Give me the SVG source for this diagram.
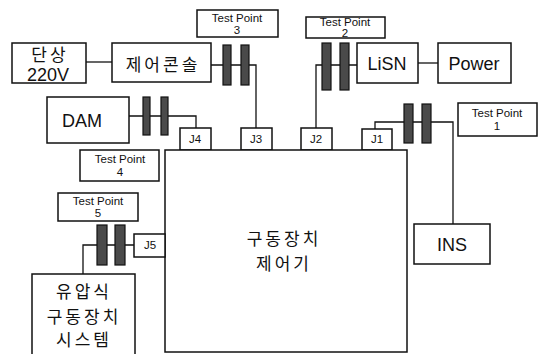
<svg xmlns="http://www.w3.org/2000/svg" width="543" height="354" viewBox="0 0 543 354">
<style>
.box{fill:#fff;stroke:#111;stroke-width:1.5}
.ln{fill:none;stroke:#111;stroke-width:1.3}
.fb{fill:#4a4a4a;stroke:#111;stroke-width:1.2}
.big{font-family:"Liberation Sans","Noto Sans CJK KR",sans-serif;font-size:18px;fill:#111;text-anchor:middle}
.kr{font-family:"Noto Sans CJK KR",sans-serif;font-size:17px;fill:#111;text-anchor:middle;letter-spacing:3px}
.sm{font-family:"Liberation Sans",sans-serif;font-size:11.5px;fill:#111;text-anchor:middle}
</style>
<rect width="543" height="354" fill="#fff"/>
<g id="connectors">
<path class="ln" d="M86 62 H112"/>
<path class="ln" d="M211 65 H256 V128"/>
<path class="ln" d="M129 116 H196 V128"/>
<path class="ln" d="M316 128 V65 H357"/>
<path class="ln" d="M418 63 H438"/>
<path class="ln" d="M375 129 V122 H453 V224"/>
<path class="ln" d="M134 245 H83 V274"/>
</g>
<g id="ferrites">
<rect class="fb" x="223" y="45" width="8" height="40"/>
<rect class="fb" x="241" y="45" width="8" height="40"/>
<rect class="fb" x="143" y="97" width="7" height="38"/>
<rect class="fb" x="161" y="97" width="7" height="38"/>
<rect class="fb" x="322" y="43" width="9" height="47"/>
<rect class="fb" x="340" y="43" width="9" height="47"/>
<rect class="fb" x="404" y="104" width="9" height="39"/>
<rect class="fb" x="422" y="104" width="9" height="39"/>
<rect class="fb" x="97" y="225" width="10" height="40"/>
<rect class="fb" x="115" y="225" width="10" height="40"/>
</g>
<g id="single-phase"><rect class="box" x="12" y="43" width="74" height="40"/><text class="kr" x="50" y="61" font-size="13">단상</text><text class="big" x="48" y="81" font-size="15">220V</text></g>
<g id="console"><rect class="box" x="112" y="43" width="99" height="39"/><text class="kr" x="163" y="71">제어콘솔</text></g>
<g id="tp3"><rect class="box" x="197" y="10" width="81" height="27"/><text class="sm" x="237" y="22">Test Point</text><text class="sm" x="237" y="34">3</text></g>
<g id="tp2"><rect class="box" x="306" y="17" width="79" height="21"/><text class="sm" x="345" y="26">Test Point</text><text class="sm" x="345" y="37">2</text></g>
<g id="lisn"><rect class="box" x="357" y="43" width="61" height="40"/><text class="big" x="387" y="70">LiSN</text></g>
<g id="power"><rect class="box" x="438" y="43" width="73" height="40"/><text class="big" x="474" y="70">Power</text></g>
<g id="dam"><rect class="box" x="47" y="97" width="82" height="46"/><text class="big" x="82" y="127">DAM</text></g>
<g id="tp1"><rect class="box" x="458" y="103" width="79" height="33"/><text class="sm" x="497" y="117">Test Point</text><text class="sm" x="497" y="130">1</text></g>
<g id="j4"><rect class="box" x="180" y="128" width="31" height="22"/><text class="sm" x="195" y="143">J4</text></g>
<g id="j3"><rect class="box" x="241" y="128" width="31" height="22"/><text class="sm" x="256" y="143">J3</text></g>
<g id="j2"><rect class="box" x="301" y="128" width="31" height="22"/><text class="sm" x="316" y="143">J2</text></g>
<g id="j1"><rect class="box" x="362" y="129" width="30" height="21"/><text class="sm" x="377" y="143">J1</text></g>
<g id="controller"><rect class="box" x="165" y="150" width="242" height="202"/><text class="kr" x="284" y="245" font-size="19">구동장치</text><text class="kr" x="284" y="270" font-size="19">제어기</text></g>
<g id="tp4"><rect class="box" x="80" y="150" width="79" height="31"/><text class="sm" x="120" y="163">Test Point</text><text class="sm" x="120" y="176">4</text></g>
<g id="tp5"><rect class="box" x="58" y="193" width="80" height="28"/><text class="sm" x="98" y="205">Test Point</text><text class="sm" x="98" y="217">5</text></g>
<g id="j5"><rect class="box" x="134" y="234" width="31" height="23"/><text class="sm" x="150" y="249">J5</text></g>
<g id="ins"><rect class="box" x="414" y="224" width="76" height="40"/><text class="big" x="452" y="251">INS</text></g>
<g id="hydraulic"><rect class="box" x="32" y="274" width="103" height="90"/><text class="kr" x="84" y="298">유압식</text><text class="kr" x="84" y="323">구동장치</text><text class="kr" x="84" y="346">시스템</text></g>
</svg>
